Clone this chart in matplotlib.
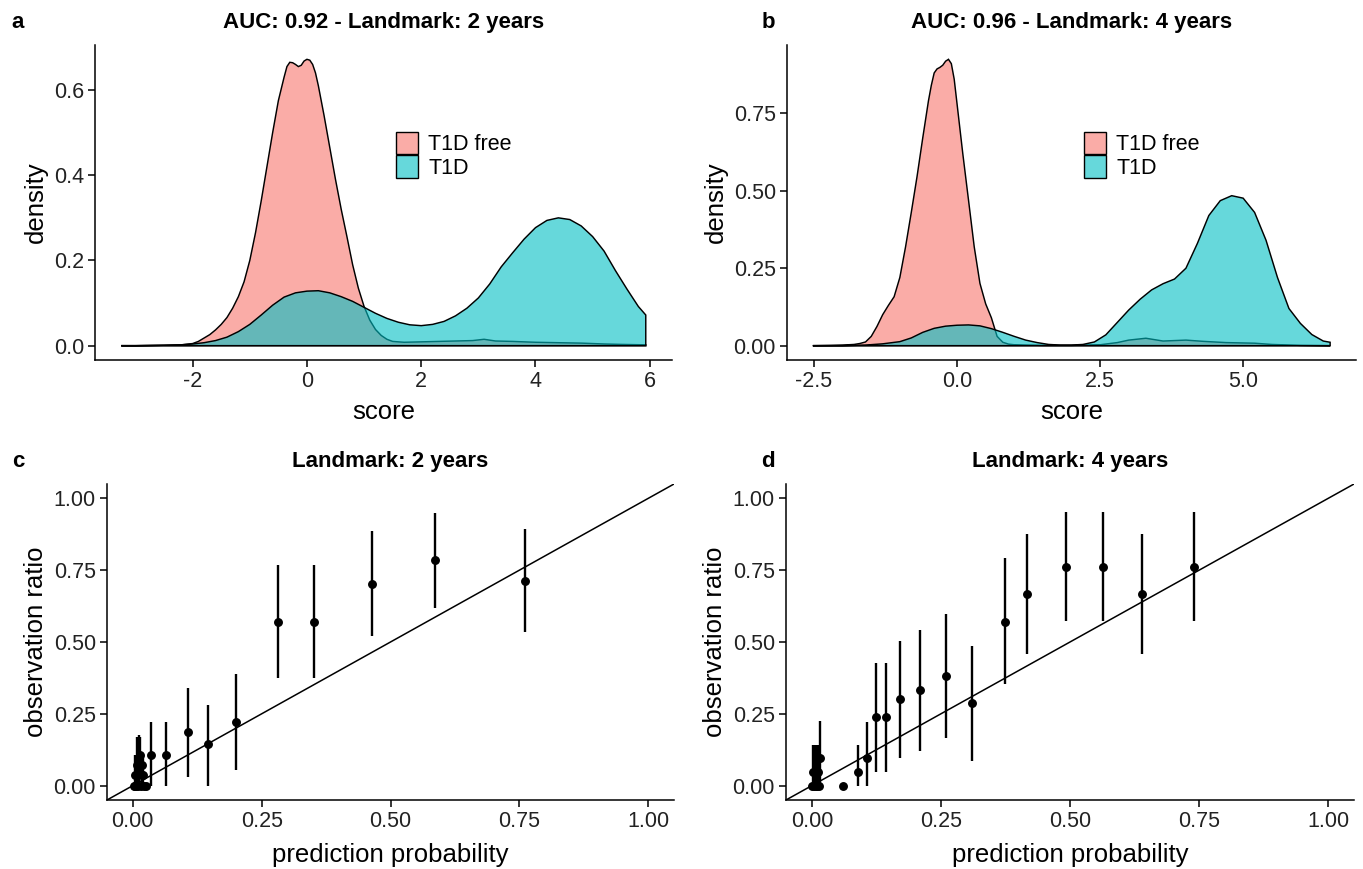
import matplotlib
matplotlib.use("Agg")
import matplotlib.pyplot as plt
from matplotlib.colors import to_rgba
from matplotlib.patches import Patch
from matplotlib.ticker import FormatStrFormatter, MultipleLocator

plt.rcParams['font.family'] = ['Liberation Sans', 'DejaVu Sans']

# ---- panel a: density of score, landmark 2 years ----
a_free_x = [-3.25, -3.0, -2.5, -2.2, -2.0, -1.9, -1.8, -1.7, -1.6, -1.5, -1.4, -1.3, -1.2, -1.1,
            -1.0, -0.9, -0.8, -0.7, -0.6, -0.5, -0.4, -0.35, -0.3, -0.25, -0.2, -0.15, -0.1,
            -0.05, 0.0, 0.05, 0.1, 0.15, 0.2, 0.3, 0.4, 0.5, 0.6, 0.7, 0.8, 0.9, 1.0, 1.1,
            1.2, 1.3, 1.4, 1.5, 1.7, 2.0, 2.3, 2.6, 2.9, 3.1, 3.3, 3.6, 4.0, 4.4, 4.8, 5.2,
            5.5, 5.93]
a_free_y = [0.000, 0.000, 0.001, 0.002, 0.005, 0.010, 0.018, 0.026, 0.037, 0.050, 0.066, 0.088,
            0.115, 0.150, 0.200, 0.265, 0.340, 0.420, 0.500, 0.575, 0.630, 0.655, 0.665, 0.664,
            0.660, 0.655, 0.658, 0.668, 0.672, 0.670, 0.660, 0.640, 0.610, 0.540, 0.465, 0.390,
            0.320, 0.256, 0.190, 0.135, 0.092, 0.060, 0.038, 0.024, 0.015, 0.010, 0.008, 0.009,
            0.010, 0.011, 0.012, 0.015, 0.011, 0.010, 0.008, 0.007, 0.006, 0.004, 0.003, 0.002]
a_t1d_x = [-3.25, -3.0, -2.5, -2.2, -2.0, -1.8, -1.6, -1.4, -1.2, -1.0, -0.8, -0.6, -0.4, -0.2,
           0.0, 0.2, 0.4, 0.6, 0.8, 1.0, 1.2, 1.4, 1.6, 1.8, 2.0, 2.2, 2.4, 2.6, 2.8, 3.0,
           3.2, 3.4, 3.6, 3.8, 4.0, 4.2, 4.4, 4.6, 4.8, 5.0, 5.2, 5.4, 5.6, 5.8, 5.93]
a_t1d_y = [0.000, 0.000, 0.001, 0.002, 0.004, 0.007, 0.012, 0.020, 0.033, 0.050, 0.072, 0.095,
           0.114, 0.124, 0.128, 0.129, 0.124, 0.115, 0.104, 0.090, 0.076, 0.064, 0.055, 0.049,
           0.047, 0.050, 0.057, 0.070, 0.088, 0.112, 0.145, 0.185, 0.218, 0.250, 0.277, 0.294,
           0.300, 0.296, 0.281, 0.256, 0.222, 0.176, 0.133, 0.092, 0.072]

# ---- panel b: density of score, landmark 4 years ----
b_free_x = [-2.52, -2.2, -2.0, -1.8, -1.7, -1.6, -1.5, -1.4, -1.3, -1.2, -1.1, -1.0, -0.9, -0.8,
            -0.7, -0.6, -0.55, -0.5, -0.45, -0.4, -0.35, -0.3, -0.25, -0.2, -0.15, -0.1, -0.05,
            0.0, 0.05, 0.1, 0.2, 0.3, 0.4, 0.5, 0.6, 0.7, 0.8, 0.9, 1.0, 1.2, 1.5, 2.0, 2.5,
            2.8, 3.0, 3.3, 3.6, 4.0, 4.3, 4.7, 5.2, 5.5, 6.0, 6.52]
b_free_y = [0.000, 0.001, 0.002, 0.004, 0.007, 0.012, 0.030, 0.062, 0.100, 0.130, 0.158, 0.220,
            0.319, 0.430, 0.545, 0.670, 0.730, 0.790, 0.840, 0.880, 0.893, 0.898, 0.905, 0.918,
            0.924, 0.910, 0.860, 0.780, 0.700, 0.620, 0.470, 0.319, 0.201, 0.135, 0.090, 0.030,
            0.011, 0.005, 0.003, 0.002, 0.001, 0.001, 0.003, 0.010, 0.018, 0.024, 0.015, 0.018,
            0.014, 0.010, 0.008, 0.004, 0.001, 0.000]
b_t1d_x = [-2.52, -2.0, -1.6, -1.3, -1.0, -0.8, -0.6, -0.4, -0.2, 0.0, 0.2, 0.4, 0.6, 0.8, 1.0,
           1.2, 1.4, 1.6, 1.8, 2.0, 2.2, 2.4, 2.6, 2.8, 3.0, 3.2, 3.4, 3.6, 3.8, 4.0, 4.2, 4.4,
           4.6, 4.8, 5.0, 5.2, 5.4, 5.6, 5.8, 6.0, 6.2, 6.4, 6.52]
b_t1d_y = [0.000, 0.000, 0.002, 0.006, 0.013, 0.025, 0.043, 0.056, 0.063, 0.066, 0.067, 0.064,
           0.055, 0.043, 0.030, 0.018, 0.010, 0.004, 0.002, 0.002, 0.004, 0.012, 0.035, 0.075,
           0.115, 0.150, 0.180, 0.200, 0.215, 0.250, 0.330, 0.420, 0.468, 0.484, 0.476, 0.430,
           0.340, 0.220, 0.120, 0.072, 0.036, 0.015, 0.011]

# ---- panel c: calibration, landmark 2 years ----
c_pred = [0.002, 0.004, 0.005, 0.007, 0.008, 0.010, 0.011, 0.013, 0.014, 0.016, 0.017, 0.018,
          0.020, 0.022, 0.025, 0.035, 0.065, 0.107, 0.145, 0.200, 0.281, 0.352, 0.465, 0.586,
          0.761]
c_obs = [0.0, 0.0, 0.036, 0.0, 0.071, 0.036, 0.0, 0.071, 0.107, 0.0, 0.036, 0.071,
         0.036, 0.0, 0.0, 0.107, 0.107, 0.185, 0.145, 0.222, 0.571, 0.571, 0.702, 0.785, 0.713]
c_lo = [0.0, 0.0, 0.0, 0.0, 0.0, 0.0, 0.0, 0.0, 0.04, 0.0, 0.0, 0.0,
        0.0, 0.0, 0.0, 0.0, 0.0, 0.031, 0.0, 0.055, 0.375, 0.375, 0.521, 0.620, 0.535]
c_hi = [0.0, 0.0, 0.105, 0.0, 0.170, 0.105, 0.0, 0.175, 0.17, 0.0, 0.105, 0.110,
        0.105, 0.0, 0.0, 0.222, 0.222, 0.340, 0.280, 0.387, 0.767, 0.767, 0.885, 0.950, 0.893]

# ---- panel d: calibration, landmark 4 years ----
d_pred = [0.001, 0.003, 0.005, 0.007, 0.008, 0.010, 0.011, 0.012, 0.014, 0.016, 0.061, 0.0885,
          0.106, 0.125, 0.143, 0.170, 0.209, 0.260, 0.310, 0.374, 0.417, 0.492, 0.563, 0.639,
          0.740]
d_obs = [0.0, 0.048, 0.0, 0.048, 0.0, 0.095, 0.0, 0.048, 0.0, 0.095, 0.0, 0.049,
         0.095, 0.238, 0.238, 0.301, 0.333, 0.382, 0.287, 0.571, 0.667, 0.762, 0.762, 0.667, 0.762]
d_lo = [0.0, 0.0, 0.0, 0.0, 0.0, 0.0, 0.0, 0.0, 0.0, 0.0, 0.0, 0.0,
        0.0, 0.049, 0.049, 0.095, 0.122, 0.165, 0.086, 0.353, 0.458, 0.574, 0.574, 0.458, 0.574]
d_hi = [0.0, 0.140, 0.0, 0.140, 0.0, 0.140, 0.0, 0.140, 0.0, 0.226, 0.0, 0.142,
        0.223, 0.426, 0.426, 0.504, 0.542, 0.597, 0.487, 0.791, 0.877, 0.951, 0.951, 0.877, 0.951]

titles = ["AUC: 0.92 - Landmark: 2 years", "AUC: 0.96 - Landmark: 4 years",
          "Landmark: 2 years", "Landmark: 4 years"]
group_labels = ["T1D free", "T1D"]
red = to_rgba("#F8766D", 0.6)
teal = to_rgba("#00BFC4", 0.6)

W, H = 1363, 869
fig = plt.figure(figsize=(W / 100, H / 100), dpi=100)


def add_ax(l, t, r, b):
    return fig.add_axes([l / W, 1 - b / H, (r - l) / W, (b - t) / H])


def style(ax):
    for s in ["top", "right"]:
        ax.spines[s].set_visible(False)
    for s in ["left", "bottom"]:
        ax.spines[s].set_linewidth(1.1)
    ax.tick_params(length=5, width=1.1, labelsize=15.5, colors="black",
                   labelcolor="#222222", pad=3)


def density(ax, x, y, color):
    xs = [x[0]] + list(x) + [x[-1]]
    ys = [0] + list(y) + [0]
    ax.fill(xs, ys, facecolor=color, edgecolor="black", linewidth=1.05)


def calib(ax, xp, yo, lo, hi):
    ax.plot([-0.05, 1.05], [-0.05, 1.05], color="black", lw=1.1, zorder=1)
    ax.vlines(xp, lo, hi, color="black", lw=1.7, zorder=2)
    ax.plot(xp, yo, "o", color="black", ms=5.4, zorder=3)
    ax.set_xlim(-0.05, 1.05)
    ax.set_ylim(-0.05, 1.05)
    ax.xaxis.set_major_locator(MultipleLocator(0.25))
    ax.yaxis.set_major_locator(MultipleLocator(0.25))
    ax.xaxis.set_major_formatter(FormatStrFormatter("%.2f"))
    ax.yaxis.set_major_formatter(FormatStrFormatter("%.2f"))
    ax.set_xlabel("prediction probability", fontsize=18.5, labelpad=8)
    ax.set_ylabel("observation ratio", fontsize=18.5, labelpad=4)


ax_a = add_ax(95, 45, 672, 360)
ax_b = add_ax(787, 45, 1356, 360)
ax_c = add_ax(107, 484, 674, 800)
ax_d = add_ax(786, 484, 1354, 800)

# density panels
for ax, fx, fy, tx, ty, yfmt, xfmt, xstep, ystep in [
        (ax_a, a_free_x, a_free_y, a_t1d_x, a_t1d_y, "%.1f", "%d", 2, 0.2),
        (ax_b, b_free_x, b_free_y, b_t1d_x, b_t1d_y, "%.2f", "%.1f", 2.5, 0.25)]:
    style(ax)
    density(ax, fx, fy, red)
    density(ax, tx, ty, teal)
    x0, x1 = min(fx[0], tx[0]), max(fx[-1], tx[-1])
    pad = (x1 - x0) * 0.05
    ax.set_xlim(x0 - pad, x1 + pad)
    ymax = max(max(fy), max(ty))
    ax.set_ylim(-ymax * 0.05, ymax * 1.05)
    ax.xaxis.set_major_locator(MultipleLocator(xstep))
    ax.yaxis.set_major_locator(MultipleLocator(ystep))
    ax.xaxis.set_major_formatter(FormatStrFormatter(xfmt))
    ax.yaxis.set_major_formatter(FormatStrFormatter(yfmt))
    ax.set_xlabel("score", fontsize=18.5, labelpad=6)
    ax.set_ylabel("density", fontsize=18.5, labelpad=4)
    handles = [Patch(facecolor=red, edgecolor="black", linewidth=1.0),
               Patch(facecolor=teal, edgecolor="black", linewidth=1.0)]
    ax.legend(handles, group_labels, loc="upper left", bbox_to_anchor=(0.522, 0.725),
              frameon=False, fontsize=15.5, borderpad=0, borderaxespad=0,
              handlelength=1.0, handleheight=1.25, labelspacing=0.0, handletextpad=0.5)

for ax, xp, yo, lo, hi in [(ax_c, c_pred, c_obs, c_lo, c_hi), (ax_d, d_pred, d_obs, d_lo, d_hi)]:
    style(ax)
    calib(ax, xp, yo, lo, hi)

for ax, title in zip([ax_a, ax_b, ax_c, ax_d], titles):
    ax.set_title(title, fontsize=16, fontweight="bold", pad=12)

for letter, (px, py) in zip("abcd", [(18, 22), (768, 22), (18, 462), (768, 462)]):
    fig.text(px / W, 1 - py / H, letter, fontsize=16, fontweight="bold", va="center", ha="center")

fig.savefig("out.png", dpi=100)
